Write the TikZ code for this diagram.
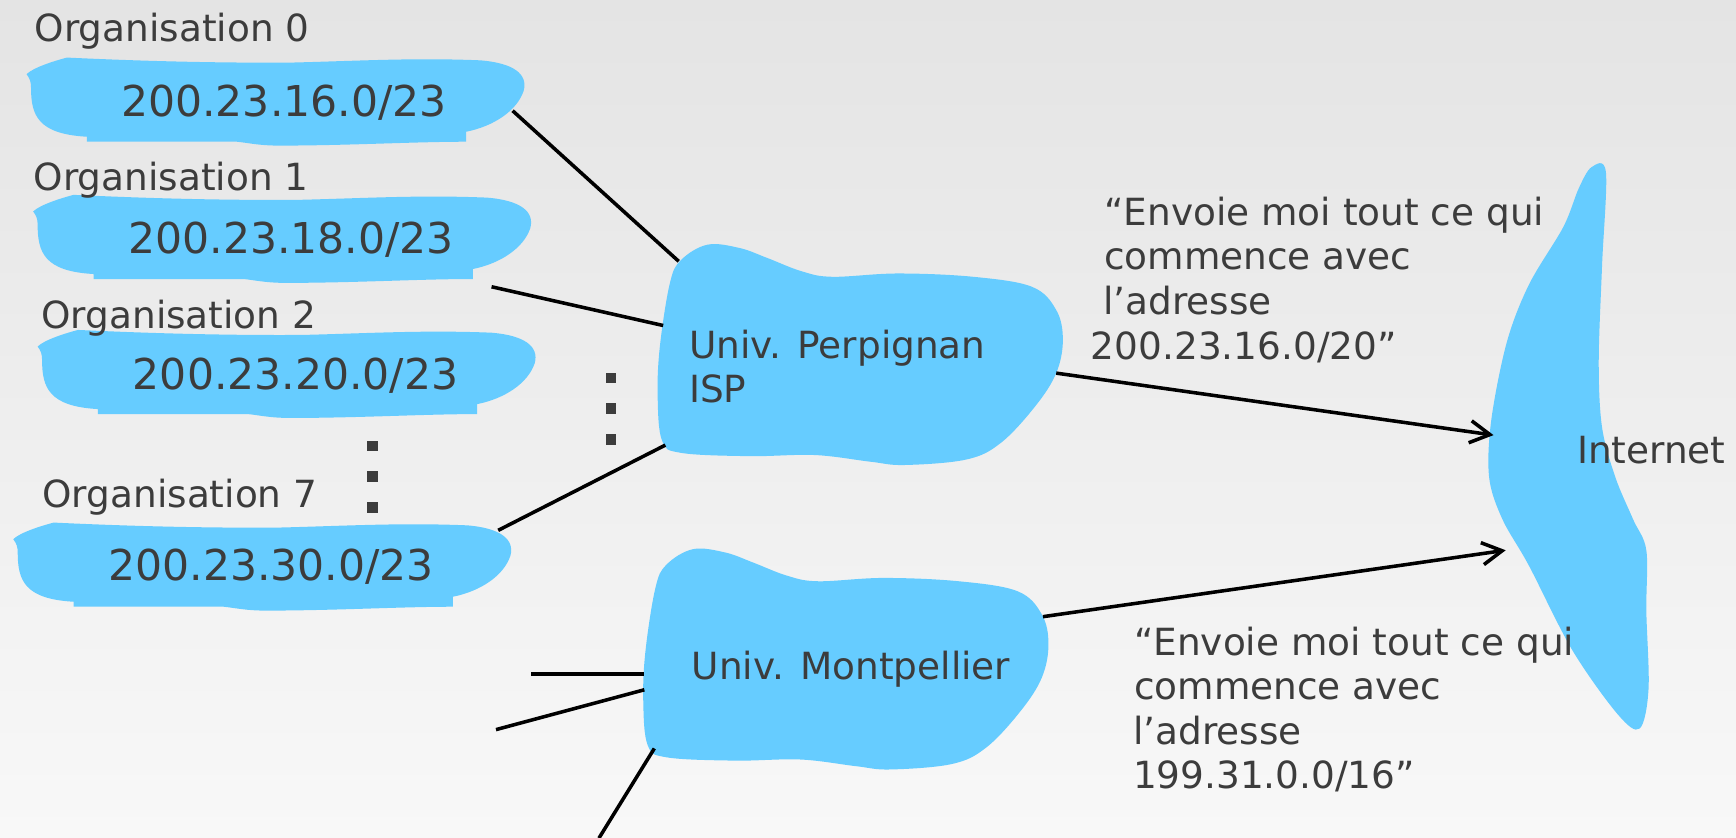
\documentclass[tikz,border=0pt]{standalone}
\usepackage{fontspec}
\setmainfont{DejaVu Sans}
\usetikzlibrary{arrows.meta}
\definecolor{bgtop}{HTML}{E4E4E4}
\definecolor{bgbot}{HTML}{F8F8F8}
\definecolor{cloudblue}{HTML}{66CCFF}
\definecolor{txt}{HTML}{3C3C3C}
\newcommand\lblfont{\fontsize{16.9}{20}\selectfont}
\newcommand\netfont{\fontsize{19.2}{23}\selectfont}
\tikzset{
  cloudfill/.style={fill=cloudblue, draw=none},
  lbl/.style={inner sep=0pt, anchor=base west, text=txt, font=\lblfont},
  net/.style={inner sep=0pt, anchor=base, text=txt, font=\netfont},
  link/.style={draw=black, line width=1.6pt},
  route/.style={link, -{Straight Barb[length=9pt,width=10pt]}},
  dotsq/.style={fill=txt},
  orgblob/.pic={
    \fill[cloudfill] (54.5,76) -- (190,76)
      .. controls (200,77) and (210,79.5) .. (228,79.5)
      .. controls (290,79.5) and (350,76) .. (397,76) -- (397,67)
      .. controls (422,62) and (443,48) .. (449,30)
      .. controls (453,15) and (440,5) .. (410,2.5)
      .. controls (350,0) and (300,3) .. (240,4.5)
      .. controls (170,5) and (100,3) .. (36.5,0)
      .. controls (25,3) and (6,9) .. (0,15)
      .. controls (3,19) and (4,22) .. (4,27)
      .. controls (4,52) and (10,69) .. (54.5,71.5) -- cycle;
  },
  ispcloud/.pic={
    \fill[cloudfill] plot[smooth cycle, tension=0.6] coordinates {
      (639,221) (668,224) (693,233) (724,245) (752,250) (811,247) (879,250)
      (932,259) (954,280) (960,307) (954,337) (935,367) (904,400) (873,415)
      (817,420) (786,417) (736,411) (677,412) (615,409) (598,398) (594,358)
      (596,313) (605,256) (615,235)};
  }
}
\begin{document}
\begin{tikzpicture}[x=0.5pt, y=-0.5pt]
  \useasboundingbox (0,0) rectangle (1568,756);
  \shade[top color=bgtop, bottom color=bgbot] (0,0) rectangle (1568,756);

  % organisation blobs
  \pic (blob0) at (24,52) {orgblob};
  \pic (blob1) at (30,176) {orgblob};
  \pic (blob2) at (34,298) {orgblob};
  \pic (blob7) at (12,472) {orgblob};

  % ISP clouds
  \pic (perpcloud) at (0,0) {ispcloud};
  \pic (montcloud) at (-13,275) {ispcloud};

  % Internet cloud
  \fill[cloudfill] plot[smooth cycle, tension=0.55] coordinates {
    (1437.5,151) (1450.5,155.6) (1447,240) (1444,327) (1447,386) (1459,431)
    (1475,469) (1487,497) (1487,552) (1489,622) (1481,658) (1461,645)
    (1420,587) (1381,511) (1357,469) (1345,431) (1347,379) (1361,309)
    (1381,257) (1412,205) (1426,170)};

  % labels
  \node[lbl] (org0) at (31,37.5) {Organisation 0};
  \node[lbl] (org1) at (30,172) {Organisation 1};
  \node[lbl] (org2) at (37,296.5) {Organisation 2};
  \node[lbl] (org7) at (38,458) {Organisation 7};

  \node[net] (net0) at (256.5,105) {200.23.16.0/23};
  \node[net] (net1) at (263,229) {200.23.18.0/23};
  \node[net] (net2) at (267,351.7) {200.23.20.0/23};
  \node[net] (net7) at (245,524.5) {200.23.30.0/23};

  \node[lbl] (perp1) at (622,323.7) {Univ. Perpignan};
  \node[lbl] (perp2) at (622,363.7) {ISP};
  \node[lbl] (mont) at (624.5,613.7) {Univ. Montpellier};
  \node[lbl] (inet) at (1424,418.5) {Internet};

  \node[lbl] (up1) at (997,203.3) {“Envoie moi tout ce qui};
  \node[lbl] (up2) at (997,243.5) {commence avec};
  \node[lbl] (up3) at (996,284) {l’adresse};
  \node[lbl] (up4) at (985,324.5) {200.23.16.0/20”};

  \node[lbl] (lo1) at (1024,592) {“Envoie moi tout ce qui};
  \node[lbl] (lo2) at (1024,632) {commence avec};
  \node[lbl] (lo3) at (1023,672) {l’adresse};
  \node[lbl] (lo4) at (1023,712) {199.31.0.0/16”};

  % dots
  \fill[dotsq] (331.5,398) rectangle +(9.5,9.5);
  \fill[dotsq] (331.5,425.5) rectangle +(9.5,9.5);
  \fill[dotsq] (331.5,453.5) rectangle +(9.5,9.5);
  \fill[dotsq] (547,336.5) rectangle +(9.5,9.5);
  \fill[dotsq] (547,364) rectangle +(9.5,9.5);
  \fill[dotsq] (547,392) rectangle +(9.5,9.5);

  % connector end points
  \coordinate (o0e) at (463,100);
  \coordinate (p0) at (613,236);
  \coordinate (o1e) at (444,259);
  \coordinate (p1) at (599,294);
  \coordinate (o7e) at (450,479);
  \coordinate (p7) at (601,402);
  \coordinate (m1a) at (480,609);
  \coordinate (m1b) at (582,609);
  \coordinate (m2a) at (448,659);
  \coordinate (m2b) at (582,623);
  \coordinate (m3a) at (541,757);
  \coordinate (m3b) at (591,676);
  \coordinate (pe) at (954,337);
  \coordinate (ia) at (1349,393);
  \coordinate (me) at (942,557);
  \coordinate (ib) at (1360,497);

  \draw[link] (o0e) -- (p0);
  \draw[link] (o1e) -- (p1);
  \draw[link] (o7e) -- (p7);
  \draw[link] (m1a) -- (m1b);
  \draw[link] (m2a) -- (m2b);
  \draw[link] (m3a) -- (m3b);
  \draw[route] (pe) -- (ia);
  \draw[route] (me) -- (ib);
\end{tikzpicture}
\end{document}
